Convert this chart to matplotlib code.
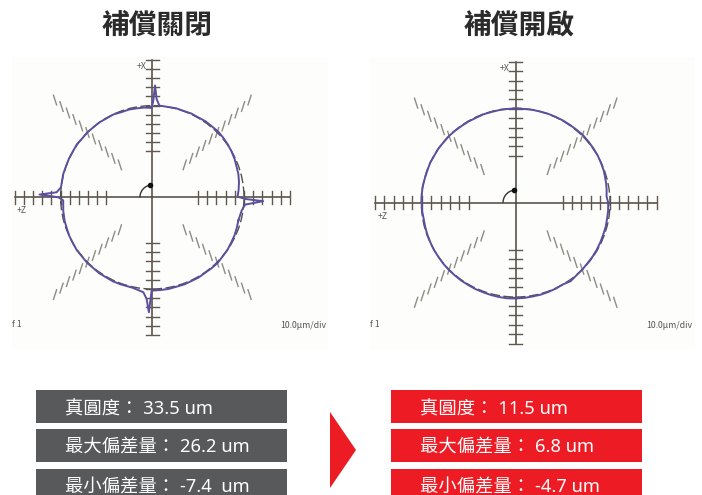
import numpy as np
import matplotlib
matplotlib.use("Agg")
import matplotlib.pyplot as plt
from matplotlib.patches import Circle, Arc, Polygon

plt.rcParams["font.family"] = ["Noto Sans CJK TC", "DejaVu Sans"]

W, H = 702, 495

titles = ["補償關閉", "補償開啟"]
stats_off = ["真圓度： 33.5 um", "最大偏差量： 26.2 um", "最小偏差量： -7.4  um"]
stats_on = ["真圓度： 11.5 um", "最大偏差量： 6.8 um", "最小偏差量： -4.7 um"]

# measured profile, angle in degrees and radius in divisions
theta_off = [-15, -8.5, -4.5, -2, -1, 0.5, 5, 10, 15, 20, 25, 30, 35, 40, 45, 50,
             55, 60, 65, 70, 75, 80, 85.6, 87.5, 88.6, 89.4, 90.4, 95, 100, 105,
             110, 115, 120, 125, 130, 135, 140, 145, 150, 155, 160, 165.3, 173.8,
             177, 178.6, 180, 182, 188.5, 195, 200, 205, 210, 215, 220, 225, 230,
             235, 240, 245, 250, 258, 264.6, 266.8, 268.3, 269, 269.6, 275, 280,
             285, 290, 295, 300, 305, 310, 315, 320, 325, 330, 335, 340, 345]
radius_off = [9.72, 9.85, 10.15, 12.1, 10.1, 9.3, 9.45, 9.6, 9.72, 9.78, 9.9, 9.98,
              10.05, 10.1, 10.15, 10.1, 10.12, 10.05, 10.08, 10.02, 10.05, 10.0,
              10.03, 10.74, 12.2, 10.55, 9.75, 9.82, 9.85, 9.9, 9.88, 9.98, 9.95,
              10.0, 9.98, 10.02, 9.98, 10.05, 10.0, 10.02, 10.0, 10.04, 10.02,
              10.45, 12.3, 10.25, 9.72, 9.82, 9.9, 9.92, 9.98, 10.0, 10.05, 10.02,
              10.08, 10.05, 10.1, 10.08, 10.12, 10.1, 10.1, 10.4, 11.1, 12.55, 11.1,
              10.18, 10.15, 10.15, 10.1, 10.12, 10.08, 10.1, 10.05, 10.08, 10.1,
              10.02, 10.0, 9.92, 9.88, 9.8, 9.72]

theta_on = [0, 4, 8, 12, 16, 20, 25, 30, 35, 40, 45, 50, 55, 60, 65, 70, 75, 80, 85,
            90, 95, 100, 105, 110, 115, 120, 125, 130, 135, 140, 145, 150, 155, 160,
            165, 170, 175, 180, 185, 190, 195, 200, 205, 210, 215, 220, 225, 230,
            235, 240, 245, 250, 255, 260, 265, 270, 275, 280, 285, 290, 295, 300,
            305, 310, 315, 320, 325, 330, 335, 340, 345, 350, 355, 360]
radius_on = [9.85, 9.7, 9.78, 9.85, 9.9, 9.98, 10.02, 10.08, 10.1, 10.12, 10.15, 10.12,
             10.1, 10.1, 10.08, 10.08, 10.05, 10.05, 10.02, 10.05, 10.02, 10.02, 10.0,
             10.02, 9.98, 10.0, 10.0, 10.02, 10.05, 10.02, 10.05, 10.02, 10.05, 10.02,
             10.02, 10.05, 10.05, 10.02, 10.0, 9.95, 9.98, 10.0, 10.02, 10.05, 10.05,
             10.08, 10.1, 10.1, 10.12, 10.12, 10.15, 10.15, 10.18, 10.2, 10.22, 10.2,
             10.18, 10.15, 10.15, 10.12, 10.1, 10.05, 10.2, 10.08, 10.05, 10.0, 10.0,
             9.98, 9.95, 9.92, 9.92, 9.88, 9.88, 9.85]

ref_radius = [10.0, 10.05]

tick_div = [5, 6, 7, 8, 9, 10, 11, 12, 13, 14, 15]

PURPLE = "#5b4f9e"
DARK = "#4c443f"
TICK = "#5f5750"
DIAG = "#8f8c84"
PANEL = "#fdfdfb"


def drawPanel(box, center, unit, theta, radius, ref_r):
    # box and center are in pixels, y measured from the top
    x0, y0, x1, y1 = box
    ax = fig.add_axes([x0 / W, 1 - y1 / H, (x1 - x0) / W, (y1 - y0) / H])
    ax.set_xlim((x0 - center[0]) / unit, (x1 - center[0]) / unit)
    ax.set_ylim((center[1] - y1) / unit, (center[1] - y0) / unit)
    ax.axis("off")
    ax.add_patch(plt.Rectangle((0, 0), 1, 1, transform=ax.transAxes, color=PANEL, zorder=0))

    ax.plot([-15, 15], [0, 0], color=DARK, linewidth=1.1, zorder=2)
    ax.plot([0, 0], [-15, 15], color=DARK, linewidth=1.1, zorder=2)

    half = 0.72
    for d in tick_div:
        for s in (-1, 1):
            ax.plot([s * d, s * d], [-half, half], color=TICK, linewidth=1.0, zorder=2)
            ax.plot([-half, half], [s * d, s * d], color=TICK, linewidth=1.0, zorder=2)

    # diagonal scales have short ticks that lean steeply
    diag_half = 0.55
    for spoke, lean in [(45, 72), (135, 108), (225, 72), (315, 108)]:
        sx, sy = np.cos(np.radians(spoke)), np.sin(np.radians(spoke))
        lx, ly = np.cos(np.radians(lean)), np.sin(np.radians(lean))
        for d in tick_div:
            ax.plot([d * sx - diag_half * lx, d * sx + diag_half * lx],
                    [d * sy - diag_half * ly, d * sy + diag_half * ly],
                    color=DIAG, linewidth=1.0, zorder=2)

    ax.add_patch(Circle((0, 0), ref_r, fill=False, edgecolor="#55504e", linewidth=1.0,
                        linestyle=(0, (7, 2.5)), zorder=3))

    t = np.radians(theta)
    ax.plot(np.array(radius) * np.cos(t), np.array(radius) * np.sin(t),
            color=PURPLE, linewidth=1.4, zorder=4, solid_joinstyle="round")

    ax.add_patch(Arc((0, 0), 2.7, 2.7, theta1=100, theta2=180, color="#333333",
                     linewidth=1.0, zorder=5))
    ax.plot([-0.22], [1.33], "o", color="#111111", markersize=3, zorder=6)

    gray = "#555555"
    ax.text(-1.15, 14.3, "+X", fontsize=6.3, color=gray, ha="center", va="center", zorder=6)
    ax.text(-14.2, -1.45, "+Z", fontsize=6.3, color=gray, ha="center", va="center", zorder=6)
    ax.text((x0 - center[0]) / unit + 0.5, (center[1] - 324.5) / unit, "f 1", fontsize=6.3,
            color=gray, ha="center", va="center", zorder=6)
    ax.text((x1 - center[0]) / unit - 0.25, (center[1] - 326) / unit, "10.0μm/div", fontsize=6.3,
            color=gray, ha="right", va="center", zorder=6)


fig = plt.figure(figsize=(W / 100, H / 100), dpi=100, facecolor="white")

drawPanel((12, 57, 328, 350), (152.3, 197.3), 9.17, theta_off, radius_off, ref_radius[0])
drawPanel((370, 57, 695, 349), (515.7, 202.7), 9.39, theta_on, radius_on, ref_radius[1])

# page layer for titles, stat bars and the arrow, in pixels
page = fig.add_axes([0, 0, 1, 1], facecolor="none")
page.set_xlim(0, W)
page.set_ylim(H, 0)
page.axis("off")

page.text(157.5, 26, titles[0], fontsize=20, fontweight="bold", color="#2b2b2b",
          ha="center", va="center")
page.text(519, 26, titles[1], fontsize=20, fontweight="bold", color="#2b2b2b",
          ha="center", va="center")

# digits come from Noto Sans, which is wider, the CJK signs from the next family
stat_font = ["Noto Sans", "Noto Sans CJK TC", "DejaVu Sans"]
bar_tops = [390, 429, 469]
bar_bottoms = [423, 462, 495]
for top, bottom, off_text, on_text in zip(bar_tops, bar_bottoms, stats_off, stats_on):
    page.add_patch(plt.Rectangle((36, top), 251, bottom - top, color="#58595b", linewidth=0))
    page.add_patch(plt.Rectangle((391, top), 251, bottom - top, color="#ed1c24", linewidth=0))
    page.text(65, top + 19, off_text, fontsize=13.2, fontweight="medium", family=stat_font,
              color="#ffffff", ha="left", va="center", clip_on=True)
    page.text(420, top + 19, on_text, fontsize=13.2, fontweight="medium", family=stat_font,
              color="#ffffff", ha="left", va="center", clip_on=True)

page.add_patch(Polygon([(330, 412), (356, 450), (330, 488)], closed=True, color="#ed1c24",
                       linewidth=0))

fig.savefig("out.png", dpi=100)
